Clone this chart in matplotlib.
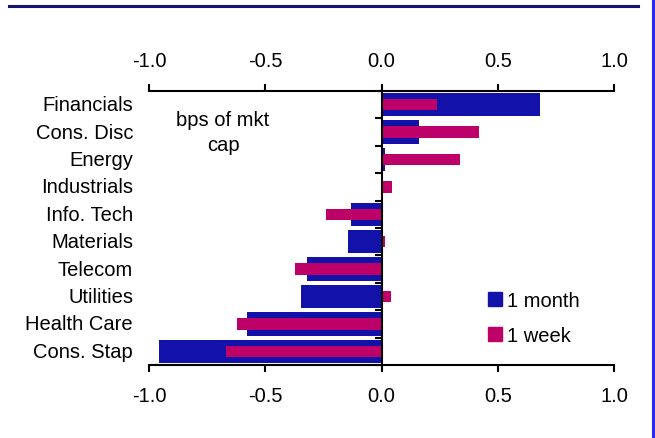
import numpy as np
from matplotlib import pyplot as plt
from matplotlib.patches import Patch
from matplotlib.lines import Line2D

plt.rcParams['font.family'] = ['Liberation Sans', 'DejaVu Sans']

sectors = ["Financials", "Cons. Disc", "Energy", "Industrials", "Info. Tech",
           "Materials", "Telecom", "Utilities", "Health Care", "Cons. Stap"]
month = [0.68, 0.16, 0.017, 0.0, -0.13, -0.145, -0.32, -0.345, -0.58, -0.955]
week = [0.24, 0.42, 0.336, 0.047, -0.24, 0.013, -0.37, 0.043, -0.62, -0.67]
xticks = [-1.0, -0.5, 0.0, 0.5, 1.0]

BLUE = "#1212AA"
PINK = "#BE0069"
FS = 14.5

fig = plt.figure(figsize=(6.55, 4.39), dpi=100)
ax = fig.add_axes([149/655, 1-366/439, (614-149)/655, (366-92)/439])

y = np.arange(len(sectors))
ax.barh(y, month, height=0.85, color=BLUE, zorder=2)
ax.barh(y, week, height=0.42, color=PINK, zorder=3)

ax.set_xlim(-1, 1)
ax.set_ylim(len(sectors) - 0.5, -0.5)

# x axis on top and bottom
ax.set_xticks(xticks)
ax.set_xticklabels([f"{v:.1f}" for v in xticks])
ax.xaxis.set_ticks_position('both')
ax.tick_params(axis='x', which='both', labeltop=True, labelbottom=True,
               direction='out', length=5, width=1.5, pad=10, labelsize=FS)

# zero line acts as the y axis, ticks at category boundaries
ax.spines['left'].set_position(('data', 0))
ax.spines['right'].set_visible(False)
for s in ['left', 'top', 'bottom']:
    ax.spines[s].set_linewidth(1.5)
    ax.spines[s].set_zorder(4)
ax.set_yticks(np.arange(-0.5, len(sectors)))
ax.tick_params(axis='y', direction='out', length=5, width=1.5, labelleft=False)

for i, name in enumerate(sectors):
    ax.annotate(name, xy=(0, i), xycoords=('axes fraction', 'data'),
                xytext=(-11.5, 0), textcoords='offset points',
                ha='right', va='center', fontsize=FS)

fig.text(223/655, 1-133/439, "bps of mkt\ncap", ha='center', va='center',
         fontsize=FS, linespacing=1.34, multialignment='center')

handles = [Patch(color=BLUE, label="1 month"), Patch(color=PINK, label="1 week")]
ax.legend(handles=handles, loc='upper left', bbox_to_anchor=(488/655, 1-292/439),
          bbox_transform=fig.transFigure, frameon=False, fontsize=FS,
          handlelength=0.7, handleheight=0.7, handletextpad=0.25,
          labelspacing=0.8, borderpad=0, borderaxespad=0)

# frame lines
fig.add_artist(Line2D([9/655, 638/655], [1-6.5/439, 1-6.5/439], color="#14146E",
                      linewidth=2.2, transform=fig.transFigure))
fig.add_artist(Line2D([653/655, 653/655], [0, 1], color="#2A2AF0",
                      linewidth=2.2, transform=fig.transFigure))

fig.savefig("out.png", dpi=100)
